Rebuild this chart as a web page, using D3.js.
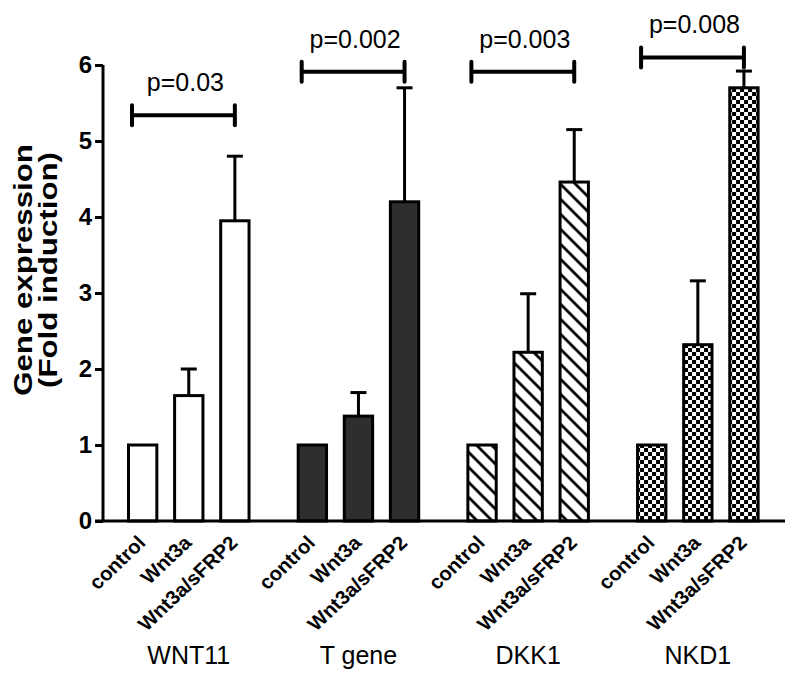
<!DOCTYPE html>
<html>
<head>
<meta charset="utf-8">
<script src="https://cdn.jsdelivr.net/npm/d3@7"></script>
<style>
  html, body { margin: 0; padding: 0; background: #fff; }
  svg { display: block; }
  text { font-family: Arial, "Liberation Sans", sans-serif; fill: #000; }
</style>
</head>
<body>
<svg id="chart" width="800" height="683"></svg>
<script>
// ---- data ----
const genes = ["WNT11", "T gene", "DKK1", "NKD1"];
const conditions = ["control", "Wnt3a", "Wnt3a/sFRP2"];
const means = {
  "WNT11":  [1, 1.65, 3.95],
  "T gene": [1, 1.38, 4.20],
  "DKK1":   [1, 2.22, 4.46],
  "NKD1":   [1, 2.32, 5.70]
};
const errors = {
  "WNT11":  [0, 0.35, 0.85],
  "T gene": [0, 0.31, 1.50],
  "DKK1":   [0, 0.77, 0.69],
  "NKD1":   [0, 0.84, 0.22]
};
const pValues = ["p=0.03", "p=0.002", "p=0.003", "p=0.008"];
const bracketLevels = [5.34, 5.91, 5.91, 6.10];
const yTicks = [0, 1, 2, 3, 4, 5, 6];
const yTitleLines = ["Gene expression", "(Fold induction)"];
const fills = ["white", "#2e2e2e", "url(#hatch)", "url(#checker)"];

// ---- layout ----
const svg = d3.select("#chart");
const y = d3.scaleLinear().domain([0, 6]).range([521, 65]);
const x0 = d3.scaleBand().domain(genes).range([127, 759.6]).paddingInner(0.272).paddingOuter(0);
const x1 = d3.scaleBand().domain(conditions).range([0, x0.bandwidth()]).paddingInner(0.32).paddingOuter(0);

// patterns
const defs = svg.append("defs");
const hatch = defs.append("pattern").attr("id", "hatch")
  .attr("patternUnits", "userSpaceOnUse").attr("width", 15).attr("height", 15);
hatch.append("rect").attr("width", 15).attr("height", 15).attr("fill", "white");
hatch.append("path").attr("d", "M-4,-4 L19,19 M-4,11 L4,19 M11,-4 L19,4")
  .attr("stroke", "black").attr("stroke-width", 2.8);
const checker = defs.append("pattern").attr("id", "checker")
  .attr("patternUnits", "userSpaceOnUse").attr("width", 8).attr("height", 8);
checker.append("rect").attr("width", 8).attr("height", 8).attr("fill", "white");
checker.append("rect").attr("width", 4).attr("height", 4).attr("fill", "black");
checker.append("rect").attr("x", 4).attr("y", 4).attr("width", 4).attr("height", 4).attr("fill", "black");

// bars
genes.forEach((g, gi) => {
  const grp = svg.append("g").attr("transform", `translate(${x0(g)},0)`);
  conditions.forEach((c, ci) => {
    const m = means[g][ci], e = errors[g][ci];
    const bx = x1(c), bw = x1.bandwidth(), cx = bx + bw / 2;
    if (e > 0) {
      grp.append("line").attr("x1", cx).attr("x2", cx)
        .attr("y1", y(m)).attr("y2", y(m + e))
        .attr("stroke", "black").attr("stroke-width", 3);
      grp.append("line").attr("x1", cx - 8).attr("x2", cx + 8)
        .attr("y1", y(m + e)).attr("y2", y(m + e))
        .attr("stroke", "black").attr("stroke-width", 3);
    }
    grp.append("rect").attr("x", bx + 1.5).attr("y", y(m))
      .attr("width", bw - 3).attr("height", y(0) - y(m))
      .attr("fill", fills[gi]).attr("stroke", "black").attr("stroke-width", 3);
    // category label
    grp.append("text")
      .attr("transform", `translate(${cx + 4},${544}) scale(1.05,1) rotate(-45)`)
      .attr("text-anchor", "end")
      .attr("font-size", 19.5).attr("font-weight", "bold")
      .text(c);
  });
  // group label
  svg.append("text").attr("x", x0(g) + x0.bandwidth() / 2).attr("y", 664)
    .attr("text-anchor", "middle").attr("font-size", 25).text(g);
  // significance bracket
  const lx = x0(g) + x1("control") + 5;
  const rx = x0(g) + x1("Wnt3a/sFRP2") + x1.bandwidth() / 2;
  const by = y(bracketLevels[gi]);
  svg.append("line").attr("x1", lx).attr("x2", rx).attr("y1", by).attr("y2", by)
    .attr("stroke", "black").attr("stroke-width", 4);
  [lx, rx].forEach(px => svg.append("line").attr("x1", px).attr("x2", px)
    .attr("y1", by - 10).attr("y2", by + 10)
    .attr("stroke", "black").attr("stroke-width", 4).attr("stroke-linecap", "round"));
  svg.append("text").attr("x", (lx + rx) / 2 + 2).attr("y", by - 24)
    .attr("text-anchor", "middle").attr("font-size", 25).text(pValues[gi]);
});

// axes
const yAxis = svg.append("g").attr("transform", "translate(103,0)")
  .call(d3.axisLeft(y).tickValues(yTicks).tickFormat(d3.format("d")).tickSize(8).tickPadding(3));
yAxis.select(".domain").attr("stroke-width", 3).attr("d", `M0,${y(6)}V${y(0)}`);
yAxis.selectAll(".tick line").attr("stroke-width", 3);
yAxis.selectAll(".tick text").attr("font-size", 24).attr("font-weight", "bold")
  .attr("font-family", "Arial, 'Liberation Sans', sans-serif");

svg.append("line").attr("x1", 95).attr("x2", 785).attr("y1", y(0)).attr("y2", y(0))
  .attr("stroke", "black").attr("stroke-width", 3);

// y-axis title (two lines, glyphs stretched along the text direction)
yTitleLines.forEach((t, i) => {
  svg.append("text")
    .attr("transform", `translate(${32 + i * 25},270) rotate(-90) scale(1.25,1)`)
    .attr("text-anchor", "middle").attr("font-size", 25).attr("font-weight", "bold")
    .text(t);
});
</script>
</body>
</html>
